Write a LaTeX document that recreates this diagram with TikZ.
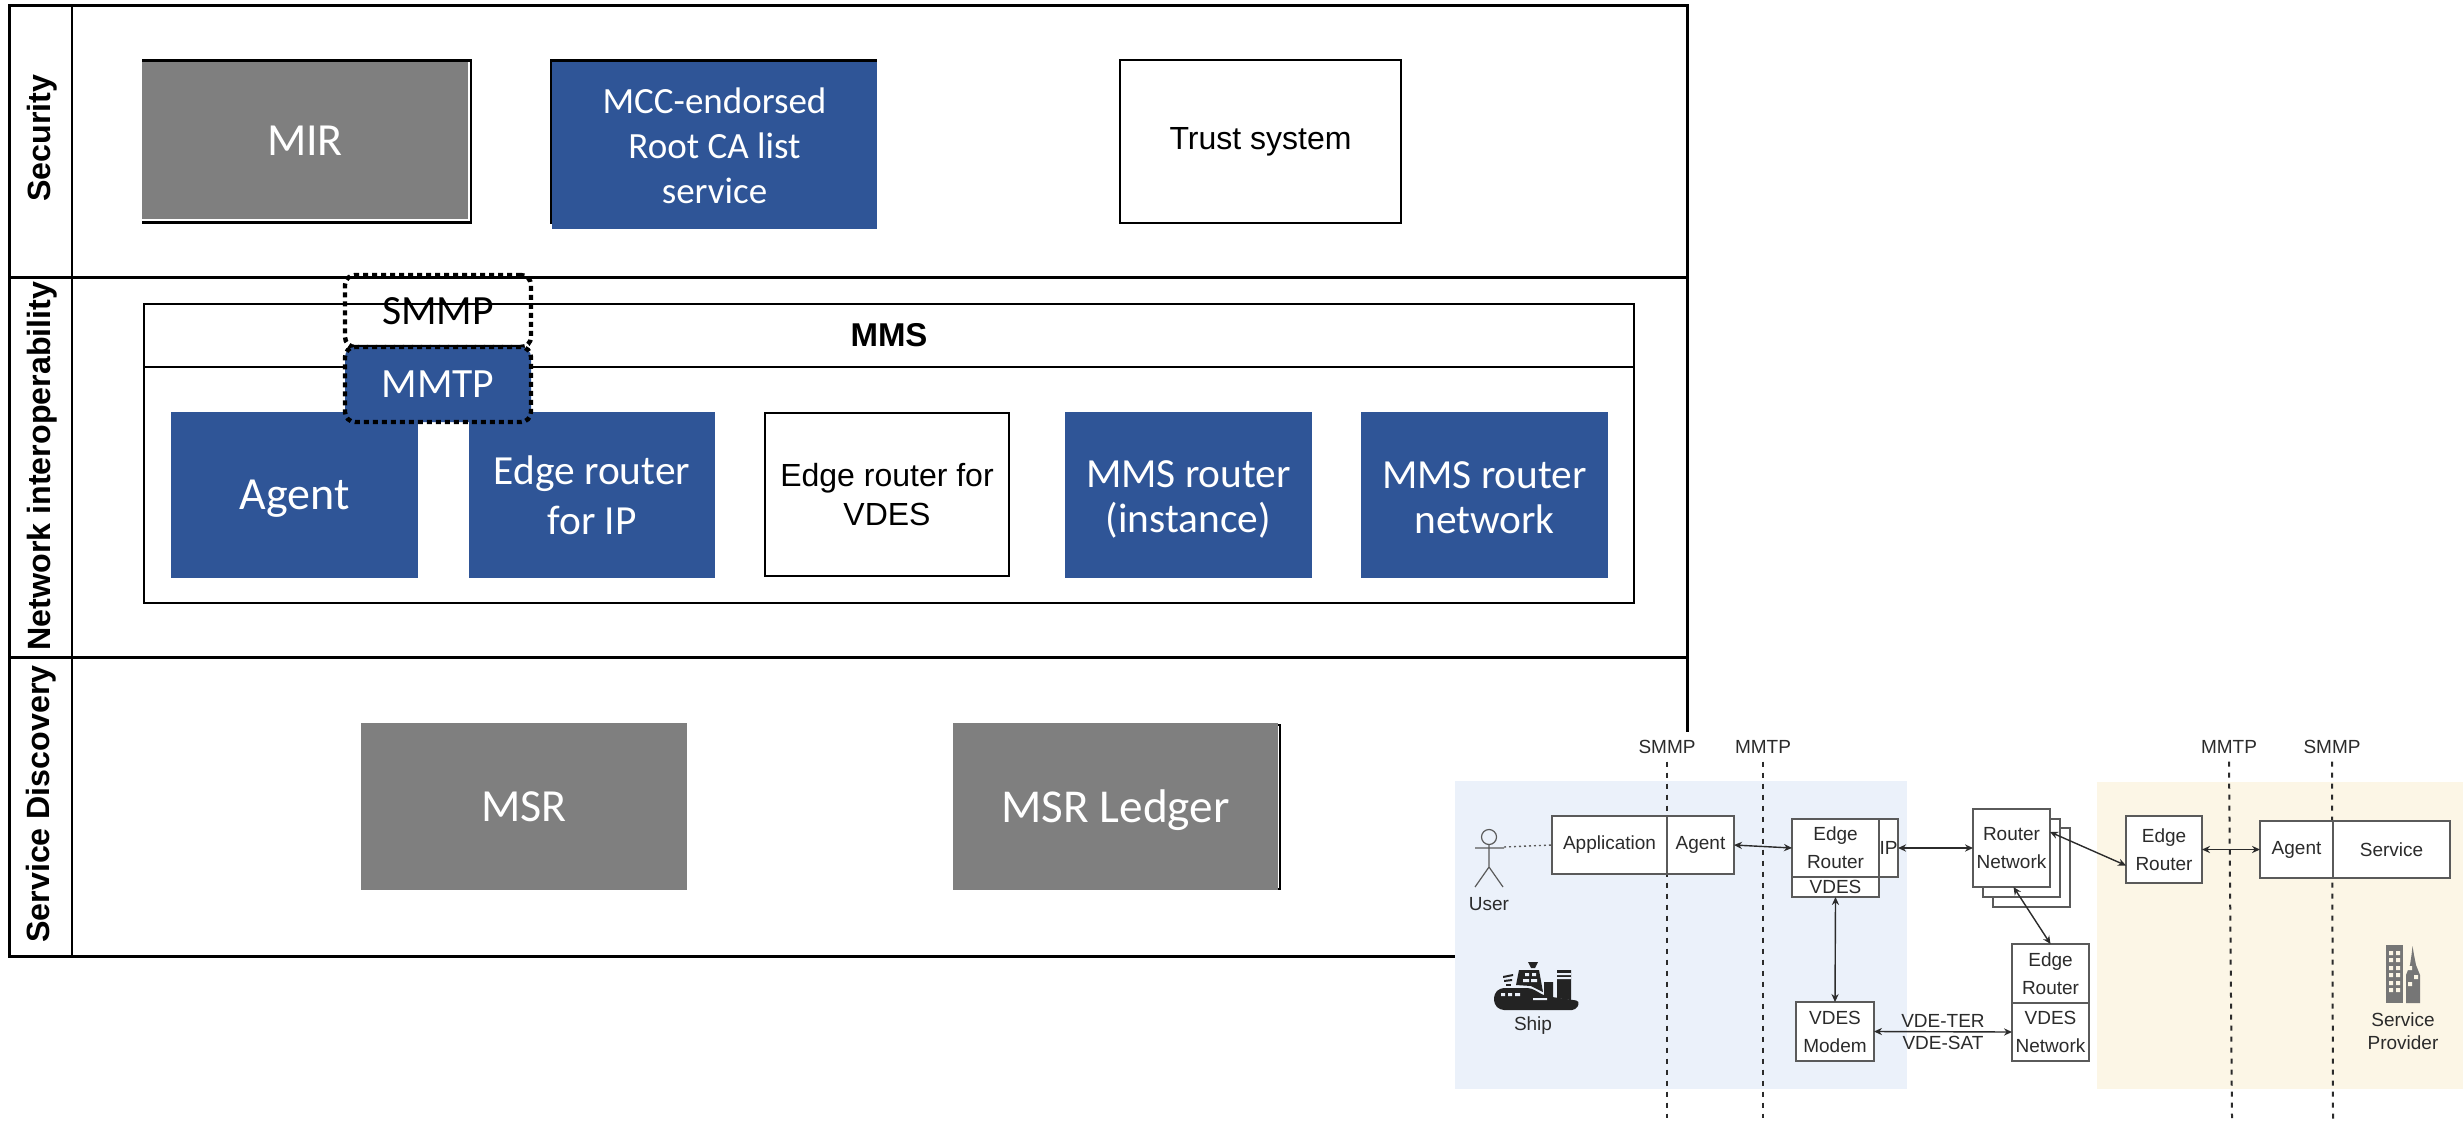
\documentclass[tikz,border=0pt]{standalone}
\usepackage{fontspec}
\setmainfont{Liberation Sans}
\newfontfamily\calib{Carlito}
\usetikzlibrary{arrows.meta}
\definecolor{mblue}{HTML}{2F5597}
\definecolor{mgray}{HTML}{7F7F7F}
\definecolor{shipbg}{HTML}{EBF1FA}
\definecolor{provbg}{HTML}{FCF6E6}
\definecolor{smalltext}{HTML}{2B2B2B}
\definecolor{smallline}{HTML}{5A5A5A}
\definecolor{iconink}{HTML}{232323}
\definecolor{bldg}{HTML}{767676}
\newcommand{\pxnode}[7]{%
  \pgfmathsetmacro{\pxcx}{(#3+#5)/2}%
  \pgfmathsetmacro{\pxcy}{(#4+#6)/2}%
  \node[#1,minimum width={(#5-#3)*0.5pt},minimum height={(#6-#4)*0.5pt}] (#2) at (\pxcx,\pxcy) {#7};%
}
\tikzset{
  base/.style={inner sep=0pt,outer sep=0pt,align=center},
  frameline/.style={draw=black,line width=1.5pt},
  bluebox/.style={base,fill=mblue,text=white},
  graybox/.style={base,fill=mgray,text=white},
  plainbox/.style={base,draw=black,line width=1.3pt,fill=white},
  blackplate/.style={base,fill=black},
  whiteplate/.style={base,fill=white},
  big/.style={font=\calib\fontsize{23}{25}\selectfont},
  mid/.style={font=\calib\fontsize{20.7}{25}\selectfont},
  mcc/.style={font=\calib\fontsize{18.5}{22.5}\selectfont},
  ariallg/.style={font=\fontsize{16}{19.5}\selectfont},
  side/.style={base,rotate=90,font=\bfseries\fontsize{16.1}{18}\selectfont},
  proto/.style={base,draw=black,line width=2.2pt,dash pattern=on 2.5pt off 2pt,rounded corners=5pt,font=\calib\fontsize{20.8}{23}\selectfont},
  small/.style={base,draw=smallline,line width=0.8pt,fill=white,text=smalltext,font=\fontsize{9.5}{14}\selectfont},
  lbl/.style={base,text=smalltext,font=\fontsize{9.5}{11.5}\selectfont},
  panel/.style={base},
  vline/.style={draw=smalltext,line width=1pt,dash pattern=on 2.5pt off 3pt},
  bidir/.style={draw=smalltext,line width=0.7pt,{Stealth[length=4pt,width=3.6pt]}-{Stealth[length=4pt,width=3.6pt]}},
  figure/.style={draw=smallline,line width=0.6pt}
}
\begin{document}
\begin{tikzpicture}[x=0.5pt,y=-0.5pt]
\useasboundingbox (0,0) rectangle (2463,1124);
% outer table
\draw[frameline] (9,5) rectangle (1687,956);
\draw[frameline,line width=1.2pt] (72,5) -- (72,956);
\draw[frameline] (9,277) -- (1687,277);
\draw[frameline] (9,657) -- (1687,657);
\node[side] (secl) at (42,138) {Security};
\node[side] (netl) at (42,466) {Network interoperability};
\node[side] (disl) at (41,804) {Service Discovery};
% security row
\pxnode{blackplate}{mirback}{142}{59}{472}{224}{}
\pxnode{whiteplate}{mirwhite}{142}{62}{470}{221}{}
\pxnode{graybox,big}{mir}{142}{62}{468}{219}{MIR}
\pxnode{blackplate}{rootback}{550}{59}{877}{224}{}
\pxnode{bluebox,mcc}{root}{552}{62}{877}{229}{MCC-endorsed\\Root CA list\\service}
\pxnode{plainbox,ariallg}{trust}{1120}{60}{1401}{223}{Trust system}
% MMS
\pxnode{plainbox,line width=1.2pt}{mmsbody}{144}{367}{1634}{603}{}
\pxnode{plainbox,line width=1.2pt,font=\bfseries\fontsize{16.5}{19}\selectfont}{mmshead}{144}{304}{1634}{367}{MMS}
\pxnode{bluebox,big,text depth=0pt}{agent}{171}{412}{418}{578}{Agent}
\pxnode{bluebox,mid}{edgeip}{469}{412}{715}{578}{Edge router\\for IP}
\pxnode{plainbox,ariallg}{edgevdes}{765}{413}{1009}{576}{Edge router for\\VDES}
\pxnode{bluebox,font=\calib\fontsize{20.7}{22.5}\selectfont}{mmsinst}{1065}{412}{1312}{578}{\rule{0pt}{17.5pt}MMS router\\(instance)}
\pxnode{bluebox,font=\calib\fontsize{20.7}{22.5}\selectfont}{mmsnet}{1361}{412}{1608}{578}{\rule{0pt}{16.5pt}MMS router\\network}
\pxnode{proto}{smmpbox}{345}{275}{531}{347}{SMMP}
\pxnode{proto,fill=mblue,text=white}{mmtpbox}{345}{347}{531}{422}{MMTP}
% discovery row
\pxnode{blackplate}{ledgerback}{1270}{724}{1281}{890}{}
\pxnode{whiteplate}{ledgerwhite}{1270}{726}{1279}{888}{}
\pxnode{graybox,big}{msr}{361}{723}{687}{890}{MSR}
\pxnode{graybox,font=\calib\fontsize{23.6}{25}\selectfont,text depth=0pt}{ledger}{953}{723}{1278}{890}{MSR Ledger}
% inset backgrounds
\fill[white] (1455,732) rectangle (2463,1124);
\pxnode{panel,fill=shipbg}{shippanel}{1455}{781}{1907}{1089}{}
\pxnode{panel,fill=provbg}{provpanel}{2097}{782}{2463}{1089}{}
% protocol lines
\node[lbl] (ls1) at (1667,747) {SMMP};
\node[lbl] (lm1) at (1763,747) {MMTP};
\node[lbl] (lm2) at (2229,747) {MMTP};
\node[lbl] (ls2) at (2332,747) {SMMP};
\coordinate (ls1b) at (1667,1118);
\coordinate (lm1b) at (1763,1118);
\coordinate (lm2b) at (2232,1118);
\coordinate (ls2b) at (2333,1124);
\draw[vline] (ls1.south) ++(0,8) -- (ls1b);
\draw[vline] (lm1.south) ++(0,8) -- (lm1b);
\draw[vline] (lm2.south) ++(0,8) -- (lm2b);
\draw[vline] (ls2.south) ++(0,8) -- (ls2b);
% ship side
\pxnode{small}{app}{1552}{816}{1667}{874}{Application}
\pxnode{small}{ag}{1667}{816}{1734}{874}{Agent}
\pxnode{small}{edgeup}{1792}{819}{1879}{877}{Edge\\Router}
\pxnode{small}{edgelow}{1792}{877}{1879}{897}{VDES}
\pxnode{small}{ipbox}{1879}{819}{1898}{877}{IP}
\pxnode{small}{modem}{1796}{1002}{1874}{1061}{VDES\\Modem}
% user figure
\draw[figure] (1489,837) circle (7.5);
\draw[figure] (1489,845) -- (1489,867) -- (1475,887) (1489,867) -- (1503,887) (1475,848) -- (1504,848);
\coordinate (userhand) at (1504,847);
\draw[draw=smallline,line width=0.7pt,dash pattern=on 1pt off 1.5pt] (userhand) -- (app.west);
\node[lbl] (userl) at (1489,904) {User};
% ship icon
\fill[iconink,rounded corners=2pt] (1494,994) -- (1500,988) -- (1531,988) -- (1545,996) -- (1580,1001) -- (1576,1010) -- (1500,1010) -- (1494,1004) -- cycle;
\fill[iconink] (1516,985) -- (1519,970) -- (1539,970) -- (1543,992) -- (1531,986) -- cycle;
\fill[iconink] (1528,962) -- (1538,962) -- (1535,968) -- (1531,968) -- cycle;
\fill[iconink] (1544,982) -- (1553,982) -- (1553,998) -- (1544,996) -- cycle;
\fill[iconink] (1557,970) -- (1571,970) -- (1571,1000) -- (1557,998) -- cycle;
\fill[shipbg] (1557,973) rectangle (1571,975) (1557,977) rectangle (1571,979);
\fill[shipbg] (1525,973) rectangle (1529,976) (1532,973) rectangle (1536,976) (1523,979) rectangle (1529,982) (1531,979) rectangle (1537,982);
\fill[shipbg] (1501,993) rectangle (1505,996) (1508,993) rectangle (1512,996) (1515,993) rectangle (1520,996) (1533,998) rectangle (1547,1000);
\fill[iconink] (1503,976) -- (1513,974) -- (1513,976) -- (1503,978) -- cycle;
\fill[iconink] (1504,980) -- (1512,979) -- (1512,981) -- (1504,982) -- cycle;
\fill[iconink] (1506,984) -- (1511,984) -- (1511,986) -- (1506,986) -- cycle;
\node[lbl,text depth=0pt] (shipl) at (1533,1024) {Ship};
% between
\pxnode{small}{rnet3}{1993}{828}{2070}{907}{}
\pxnode{small}{rnet2}{1983}{819}{2060}{897}{}
\pxnode{small}{rnet}{1973}{809}{2050}{887}{Router\\Network}
\pxnode{small}{vnetup}{2012}{944}{2089}{1003}{Edge\\Router}
\pxnode{small}{vnetlow}{2012}{1003}{2089}{1061}{VDES\\Network}
\node[lbl] (vter) at (1943,1021) {VDE-TER};
\node[lbl] (vsat) at (1943,1043) {VDE-SAT};
% provider side
\pxnode{small}{spedge}{2126}{816}{2202}{883}{Edge\\Router}
\pxnode{small}{spagent}{2260}{821}{2333}{878}{Agent}
\pxnode{small}{spservice}{2333}{821}{2450}{878}{Service}
% building icon
\fill[bldg] (2386,945) rectangle (2403,1003);
\foreach \wy in {951,958,966,973,981,988}{
  \fill[provbg] (2389,\wy) rectangle (2393,\wy+4) (2396,\wy) rectangle (2400,\wy+4);
}
\fill[bldg] (2406,1003) -- (2406,975) -- (2410,965) -- (2411.5,955) -- (2412.5,946) -- (2414,955) -- (2416,965) -- (2420,975) -- (2420,1003) -- cycle;
\fill[provbg] (2408,966) rectangle (2412,970) (2414,975) rectangle (2418,979) (2408,982) rectangle (2412,986);
\node[lbl] (provl) at (2403,1031) {Service\\Provider};
% connectors
\draw[bidir] (ag.east) -- (edgeup.west);
\draw[bidir] (edgelow.south) -- (modem.north);
\draw[bidir] (ipbox.east) -- (rnet.west);
\draw[bidir] (modem.east) -- (vnetlow.west);
\draw[bidir] ([yshift=8pt]rnet.east) -- ([yshift=-8pt]spedge.west);
\draw[bidir] ([xshift=1pt]rnet.south) -- (vnetup.north);
\draw[bidir] (spedge.east) -- (spagent.west);
\end{tikzpicture}
\end{document}
